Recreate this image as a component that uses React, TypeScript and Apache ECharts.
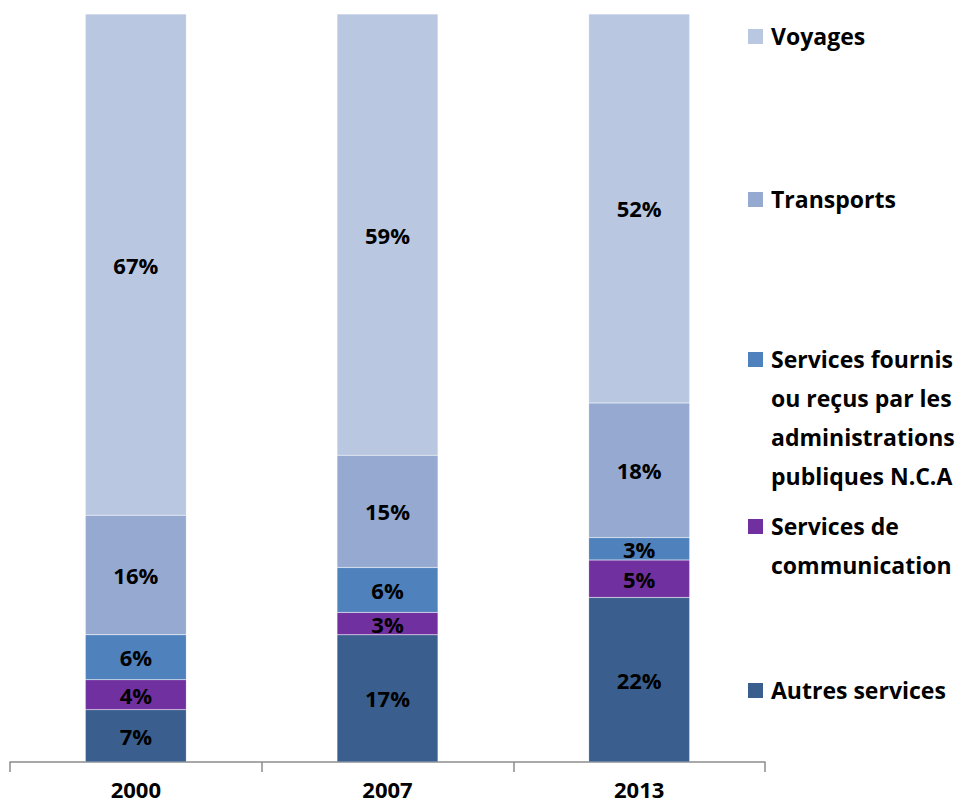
import React, { useEffect, useRef } from "react";
import * as echarts from "echarts";

const years = ["2000", "2007", "2013"];
const autresServices = [7, 17, 22];
const servicesCommunication = [4, 3, 5];
const servicesFournis = [6, 6, 3];
const transports = [16, 15, 18];
const voyages = [67, 59, 52];

const FONT = "'Open Sans'";

const legendItems = [
  { color: "#B9C7E1", y: 36, text: "Voyages" },
  { color: "#95A9D1", y: 199, text: "Transports" },
  { color: "#4F81BD", y: 359, text: "Services fournis\nou reçus par les\nadministrations\npubliques N.C.A" },
  { color: "#7030A0", y: 526, text: "Services de\ncommunication" },
  { color: "#3A5F8F", y: 690, text: "Autres services" },
];

export default function App() {
  const ref = useRef<HTMLDivElement>(null);
  useEffect(() => {
    if (!ref.current) return;
    const chart = echarts.init(ref.current, undefined, { renderer: "svg" });
    const label = {
      show: true,
      position: "inside",
      formatter: "{c}%",
      color: "#000",
      fontFamily: FONT,
      fontWeight: "bold",
      fontSize: 22,
    };
    const mk = (name: string, data: number[], color: string) => ({
      name,
      type: "bar",
      stack: "total",
      data,
      barWidth: 101,
      itemStyle: { color, borderColor: "rgba(255,255,255,0.35)", borderWidth: 0.5 },
      label,
    });
    const graphic: any[] = [];
    legendItems.forEach((it) => {
      graphic.push({
        type: "rect",
        shape: { x: 748, y: it.y - 7, width: 15, height: 15 },
        style: { fill: it.color },
      });
      graphic.push({
        type: "text",
        x: 771,
        y: it.y - 19.5,
        style: {
          text: it.text,
          fill: "#000",
          font: `bold 23px ${FONT}`,
          lineHeight: 39,
          verticalAlign: "top",
          align: "left",
        },
      });
    });
    chart.setOption({
      animation: false,
      grid: { left: 10, right: 202, top: 14, bottom: 44, containLabel: false },
      xAxis: {
        type: "category",
        data: years,
        axisLine: { lineStyle: { color: "#8C8C8C", width: 1.5 } },
        axisTick: { show: true, length: 10, lineStyle: { color: "#8C8C8C", width: 1.5 } },
        axisLabel: {
          color: "#000",
          fontFamily: FONT,
          fontWeight: "bold",
          fontSize: 22,
          lineHeight: 22,
          margin: 16,
        },
      },
      yAxis: {
        type: "value",
        min: 0,
        max: 100,
        show: false,
        splitLine: { show: false },
      },
      series: [
        mk("Autres services", autresServices, "#3A5F8F"),
        mk("Services de communication", servicesCommunication, "#7030A0"),
        mk("Services fournis ou reçus par les administrations publiques N.C.A", servicesFournis, "#4F81BD"),
        mk("Transports", transports, "#95A9D1"),
        mk("Voyages", voyages, "#B9C7E1"),
      ],
      graphic,
    });
    return () => chart.dispose();
  }, []);
  return <div ref={ref} style={{ width: 967, height: 806, position: "absolute", left: 0, top: 0 }} />;
}
